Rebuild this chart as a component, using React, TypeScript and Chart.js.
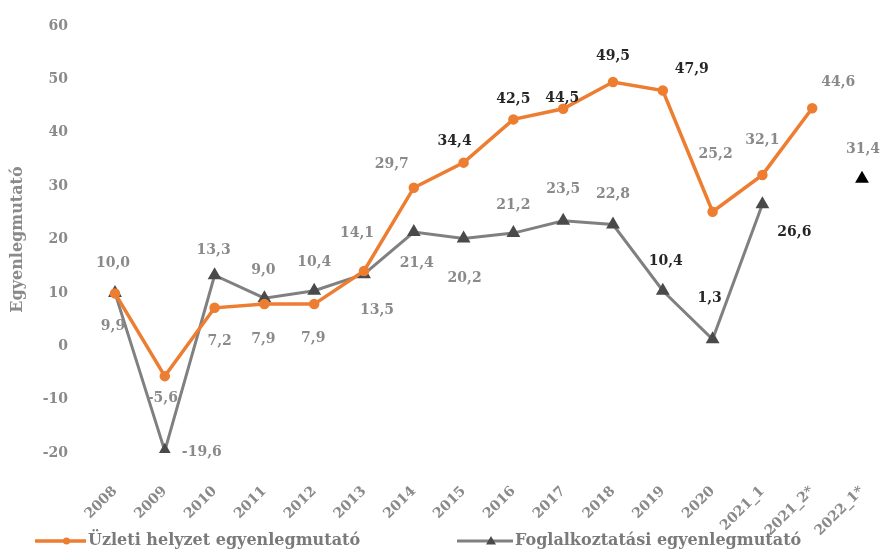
import React, { useEffect, useRef } from "react";
import { Chart, registerables } from "chart.js";

Chart.register(...registerables);

const categories = [
  "2008", "2009", "2010", "2011", "2012", "2013", "2014", "2015",
  "2016", "2017", "2018", "2019", "2020", "2021_1", "2021_2*", "2022_1*",
];
const uzletiValues: (number | null)[] = [
  9.9, -5.6, 7.2, 7.9, 7.9, 14.1, 29.7, 34.4, 42.5, 44.5, 49.5, 47.9, 25.2, 32.1, 44.6, null,
];
const foglalkoztatasiValues: (number | null)[] = [
  10.0, -19.6, 13.3, 9.0, 10.4, 13.5, 21.4, 20.2, 21.2, 23.5, 22.8, 10.4, 1.3, 26.6, null, 31.4,
];
const seriesNames = ["Üzleti helyzet egyenlegmutató", "Foglalkoztatási egyenlegmutató"];
const axisTitle = "Egyenlegmutató";

// label placement (pixel offsets from the point) and emphasis
const uzletiLabelOffsets = [
  [-2, 33], [-2, 22], [5, 34], [-1, 35], [-1, 34], [-7, -38], [-22, -23], [-9, -21],
  [0, -20], [-1, -10], [0, -26], [29, -21], [3, -57], [0, -35], [26, -26], [0, 0],
];
const uzletiLabelBold = [false, false, false, false, false, false, false, true, true, true, true, true, false, false, false, false];
const foglLabelOffsets = [
  [-2, -30], [37, 1], [-1, -25], [-1, -28], [0, -28], [13, 36], [3, 31], [1, 40],
  [0, -28], [0, -31], [0, -30], [3, -29], [-3, -41], [32, 28], [0, 0], [1, -29],
];
const foglLabelBold = [false, false, false, false, false, false, false, false, false, false, false, true, true, true, false, false];

const ORANGE = "#ED7D31";
const GRAY_LINE = "#808080";
const GRAY_MARK = "#4a4a4a";
const LABEL_GRAY = "#8a8a8a";
const LABEL_DARK = "#262626";
const FONT = "'DejaVu Serif', serif";

const fmt = (v: number) => v.toFixed(1).replace(".", ",");

const labelPlugin = {
  id: "dataLabels",
  afterDatasetsDraw(chart: any) {
    const ctx = chart.ctx;
    ctx.save();
    ctx.textAlign = "center";
    ctx.textBaseline = "middle";
    const specs = [
      { off: uzletiLabelOffsets, bold: uzletiLabelBold },
      { off: foglLabelOffsets, bold: foglLabelBold },
    ];
    chart.data.datasets.forEach((ds: any, di: number) => {
      const meta = chart.getDatasetMeta(di);
      meta.data.forEach((pt: any, i: number) => {
        const v = ds.data[i];
        if (v === null || v === undefined) return;
        const [dx, dy] = specs[di].off[i];
        const b = specs[di].bold[i];
        ctx.font = `bold 14px ${FONT}`;
        ctx.fillStyle = b ? LABEL_DARK : LABEL_GRAY;
        ctx.fillText(fmt(v), pt.x + dx, pt.y + dy);
      });
    });
    ctx.restore();
  },
};

const legendPlugin = {
  id: "customLegend",
  afterDraw(chart: any) {
    const ctx = chart.ctx;
    ctx.save();
    const y = 541;
    const items = [
      { x0: 35, x1: 86, color: ORANGE, mark: "circle", markColor: ORANGE, lw: 3.5 },
      { x0: 457, x1: 513, color: GRAY_LINE, mark: "triangle", markColor: GRAY_MARK, lw: 3 },
    ];
    items.forEach((it, i) => {
      ctx.strokeStyle = it.color;
      ctx.lineWidth = it.lw;
      ctx.beginPath();
      ctx.moveTo(it.x0, y);
      ctx.lineTo(it.x1, y);
      ctx.stroke();
      const mx = (it.x0 + it.x1) / 2 + 6;
      ctx.fillStyle = it.markColor;
      ctx.beginPath();
      if (it.mark === "circle") {
        ctx.arc(mx, y, 3.5, 0, Math.PI * 2);
      } else {
        ctx.moveTo(mx, y - 5);
        ctx.lineTo(mx + 5, y + 3.5);
        ctx.lineTo(mx - 5, y + 3.5);
        ctx.closePath();
      }
      ctx.fill();
      ctx.font = `bold 16px ${FONT}`;
      ctx.fillStyle = "#7a7a7a";
      ctx.textAlign = "left";
      ctx.textBaseline = "middle";
      ctx.fillText(chart.data.datasets[i].label, it.x1 + 2, y);
    });
    ctx.restore();
  },
};

export default function App() {
  const ref = useRef<HTMLCanvasElement>(null);
  useEffect(() => {
    if (!ref.current) return;
    const pointColors = foglalkoztatasiValues.map((_, i) =>
      i === foglalkoztatasiValues.length - 1 ? "#000000" : GRAY_MARK
    );
    const chart = new Chart(ref.current, {
      type: "line",
      data: {
        labels: categories,
        datasets: [
          {
            label: seriesNames[0],
            data: uzletiValues,
            borderColor: ORANGE,
            backgroundColor: ORANGE,
            borderWidth: 3.5,
            pointStyle: "circle",
            pointRadius: 3.5,
            pointBackgroundColor: ORANGE,
            pointBorderColor: ORANGE,
            tension: 0,
            spanGaps: false,
          },
          {
            label: seriesNames[1],
            data: foglalkoztatasiValues,
            borderColor: GRAY_LINE,
            backgroundColor: GRAY_MARK,
            borderWidth: 3,
            pointStyle: "triangle",
            pointRadius: 5,
            pointBackgroundColor: pointColors,
            pointBorderColor: pointColors,
            tension: 0,
            spanGaps: false,
          },
        ],
      },
      options: {
        animation: false,
        responsive: true,
        maintainAspectRatio: false,
        layout: { autoPadding: false, padding: { top: 26, right: 22, bottom: 0, left: 0 } },
        plugins: {
          legend: { display: false },
          tooltip: { enabled: false },
        },
        scales: {
          x: {
            offset: false,
            grid: { display: false },
            border: { display: false },
            ticks: {
              autoSkip: false,
              minRotation: 45,
              maxRotation: 45,
              padding: 22,
              color: LABEL_GRAY,
              font: { family: FONT, size: 14, weight: "bold" },
            },
            afterFit: (s: any) => {
              s.height = 100;
              s.paddingLeft = 0;
              s.paddingRight = 0;
            },
          },
          y: {
            min: -20,
            max: 60,
            grid: { display: false },
            border: { display: false },
            ticks: {
              stepSize: 10,
              padding: 39,
              color: LABEL_GRAY,
              font: { family: FONT, size: 14, weight: "bold" },
            },
            title: {
              display: true,
              text: axisTitle,
              color: LABEL_GRAY,
              font: { family: FONT, size: 16, weight: "bold" },
              padding: { top: 8, bottom: 0 },
            },
            afterFit: (s: any) => {
              s.width = 115;
              s.paddingTop = 0;
              s.paddingBottom = 0;
            },
          },
        },
      },
      plugins: [labelPlugin, legendPlugin],
    });
    return () => chart.destroy();
  }, []);
  return (
    <div style={{ position: "fixed", left: 0, top: 0, width: 884, height: 553 }}>
      <canvas ref={ref} />
    </div>
  );
}
